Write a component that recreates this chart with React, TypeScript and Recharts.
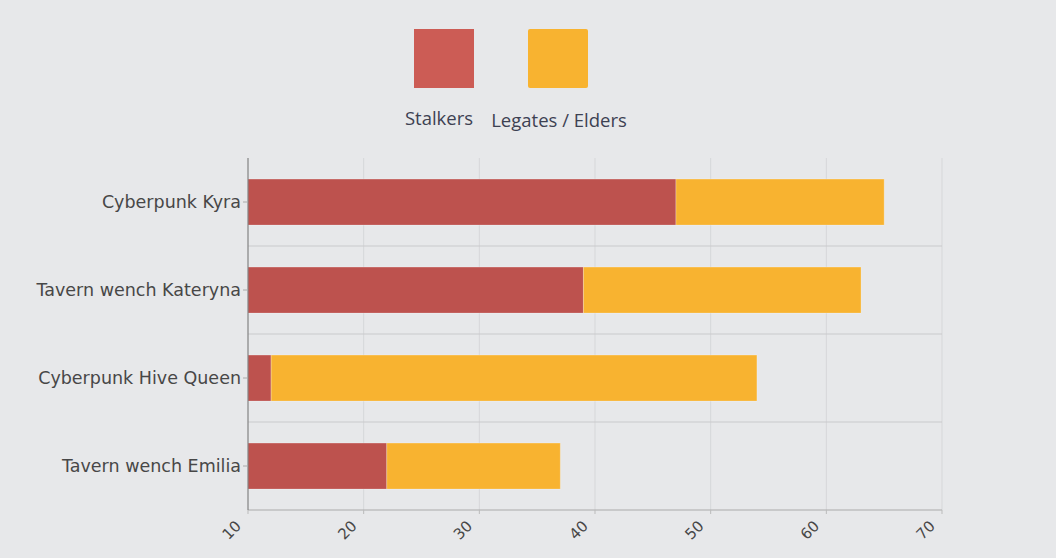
import React from 'react';
import { BarChart, Bar, XAxis, YAxis, CartesianGrid } from 'recharts';

const categories = ['Cyberpunk Kyra', 'Tavern wench Kateryna', 'Cyberpunk Hive Queen', 'Tavern wench Emilia'];
const stalkers = [47, 39, 12, 22];
const legates = [18, 24, 42, 15];
const xTicks = [10, 20, 30, 40, 50, 60, 70];
const seriesNames = ['Stalkers', 'Legates / Elders'];
const barColors = ['#bd524e', '#f8b330'];
const legendColors = ['#cc5c55', '#f8b330'];

const data = categories.map((name, i) => ({ name, stalkers: stalkers[i], legates: legates[i] }));

const labelFont = '"DejaVu Sans", sans-serif';

const XTick = (props: any) => {
  const { x, y, payload } = props;
  return (
    <g transform={`translate(${x - 6},${y + 11})`}>
      <text x={0} y={0} textAnchor="end" transform="rotate(-45)" fill="#474747" fontSize={15} fontFamily={labelFont}>
        {payload.value}
      </text>
    </g>
  );
};

const YTick = (props: any) => {
  const { x, y, payload } = props;
  return (
    <text x={x} y={y} dy={6} textAnchor="end" fill="#474747" fontSize={17.5} fontFamily={labelFont}>
      {payload.value}
    </text>
  );
};

export default function App() {
  return (
    <div style={{ position: 'absolute', left: 0, top: 0, width: 1056, height: 558, background: '#e7e8ea', overflow: 'hidden' }}>
      <div style={{ position: 'absolute', left: 0, top: 0, width: 1056, height: 140, fontFamily: '"Open Sans", sans-serif' }}>
        {seriesNames.map((n, i) => (
          <div key={n} style={{ position: 'absolute', left: i === 0 ? 384 : 479, top: 29, width: i === 0 ? 110 : 160, textAlign: 'center' }}>
            <div style={{ width: 60, height: 59, background: legendColors[i], margin: '0 auto', borderRadius: i === 1 ? 2 : 0, transform: i === 0 ? 'translateX(5px)' : 'translateX(-1px)' }} />
            <div style={{ marginTop: i === 0 ? 17 : 19, fontSize: 18.5, color: '#3d4152' }}>{n}</div>
          </div>
        ))}
      </div>
      <BarChart
        width={1056}
        height={558}
        data={data}
        layout="vertical"
        margin={{ top: 158, right: 114, bottom: 0, left: 0 }}
        barCategoryGap="24%"
        style={{ position: 'absolute', left: 0, top: 0 }}
      >
        <CartesianGrid vertical horizontal={false} stroke="#d6d7d9" strokeWidth={1} />
        <CartesianGrid
          vertical={false}
          horizontal
          stroke="#c9cacc"
          strokeWidth={1.2}
          horizontalCoordinatesGenerator={({ offset }: any) =>
            categories.slice(1).map((_, i) => offset.top + ((i + 1) * offset.height) / categories.length)
          }
        />
        <XAxis
          type="number"
          domain={[10, 70]}
          ticks={xTicks}
          allowDataOverflow
          height={48}
          axisLine={{ stroke: '#aaaaaa' }}
          tickLine={{ stroke: '#bbbbbb' }}
          tickSize={4}
          tick={<XTick />}
          interval={0}
        />
        <YAxis
          type="category"
          dataKey="name"
          width={248}
          axisLine={{ stroke: '#777777' }}
          tickLine={{ stroke: '#aaaaaa' }}
          tickSize={5}
          tickMargin={2}
          tick={<YTick />}
        />
        <Bar dataKey="stalkers" name={seriesNames[0]} stackId="a" fill={barColors[0]} stroke="rgba(255,255,255,0.25)" strokeWidth={1} isAnimationActive={false} />
        <Bar dataKey="legates" name={seriesNames[1]} stackId="a" fill={barColors[1]} stroke="rgba(255,255,255,0.25)" strokeWidth={1} isAnimationActive={false} />
      </BarChart>
    </div>
  );
}
